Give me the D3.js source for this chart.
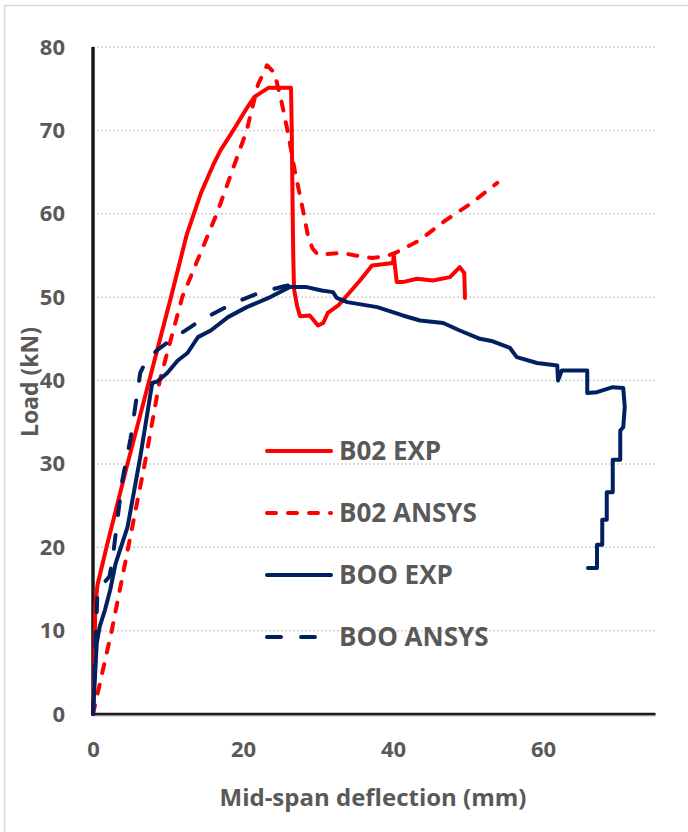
<!DOCTYPE html>
<html>
<head>
<meta charset="utf-8">
<script src="https://cdn.jsdelivr.net/npm/d3@7/dist/d3.min.js"></script>
<style>
  html, body { margin: 0; padding: 0; background: #fff; }
  svg { display: block; }
  text { font-family: "Open Sans", Lato, sans-serif; font-weight: 700; fill: #595959; }
</style>
</head>
<body>
<svg id="chart" width="688" height="832"></svg>
<script>
// Load–deflection curves, [deflection (mm), load (kN)]
const b02Exp = [
  [0,0],[0.2,6],[0.3,13],[0.6,15.5],[1.8,20],[4.6,30],[7.5,40],[10.4,50],[12.5,57.5],
  [14.4,62.5],[16.1,66],[17,67.6],[18.7,70],[20.6,72.8],[21.5,74],
  [22.7,74.7],[23.4,75.1],[26.4,75.1],[26.5,70],[26.6,62],[26.7,55],[26.8,51],
  [27.2,49],[27.6,47.7],[28.9,47.8],[30,46.6],[30.7,46.9],[31.3,48.1],[32.7,49],
  [35.6,52],[37.2,53.8],[40,54.1],[40.1,55],[40.5,51.8],[41.3,51.8],[43.2,52.2],
  [45.3,52],[47.6,52.4],[48.9,53.6],[49.5,52.9],[49.6,49.9]
];
const b02Ansys = [
  [0,0],[2.5,10],[4.7,20],[6.9,30],[8.9,40],[11.9,50],[16.5,60],[20.5,70],[22,75.5],
  [23.2,77.8],[24.2,76.9],[25.1,73.6],[26,69.7],[26.9,65.2],[27.8,61.3],[28.7,57.2],
  [29.3,55.8],[30,55.1],[33.2,55.3],[35,55],[37.2,54.7],[39,54.9],[40.3,55.3],
  [43.5,56.8],[47,59.2],[50.5,61.3],[53.9,63.7]
];
const booExp = [
  [0,0],[0.5,8.5],[0.9,10.5],[1.6,12.5],[2.3,14.9],[3,18],[4.6,22.4],[6.3,30.8],
  [7.9,39.7],[8.6,39.9],[9.9,40.9],[11.3,42.4],[12.6,43.3],[14,45.2],[15.7,46],
  [18,47.6],[20.5,48.8],[23.4,49.9],[26.2,51.2],[28.5,51.2],[30.5,50.8],[32,50.6],
  [32.5,49.9],[33.9,49.4],[37.9,48.8],[41.3,47.8],[43.6,47.2],[46.7,46.9],[48.9,46],
  [51.6,45],[53.3,44.7],[55.6,43.9],[56.5,42.8],[59.2,42.1],[61.9,41.8],[62,40],
  [62.5,41.2],[65.9,41.2],[65.9,38.5],[67.2,38.6],[69.3,39.2],[70.7,39.1],[70.9,36.8],
  [70.7,34.4],[70.3,34],[70.3,30.5],[69.3,30.5],[69.3,26.6],[68.5,26.6],[68.5,23.3],
  [67.9,23.3],[67.9,20.3],[67.2,20.3],[67.2,17.5],[66,17.5]
];
const booAnsys = [
  [0,0],[0.2,5],[0.4,10],[0.6,14.8],[2.2,16.5],[2.6,18.5],[3.9,28],[5,33],[6.3,40.9],
  [7,42.2],[8.5,43.6],[10.3,44.8],[13,46.4],[14.3,47.2],[18.8,49.3],[22.4,50.6],
  [25.5,51.3],[26.5,51.5]
];

const seriesNames = ["B02 EXP", "B02 ANSYS", "BOO EXP", "BOO ANSYS"];
const xTicks = [0, 20, 40, 60];
const yTicks = [0, 10, 20, 30, 40, 50, 60, 70, 80];
const xTitle = "Mid-span deflection (mm)";
const yTitle = "Load (kN)";

const RED = "#ff0000", NAVY = "#002060";
const styles = [
  { color: RED,  dash: null },
  { color: RED,  dash: "9,12" },
  { color: NAVY, dash: null },
  { color: NAVY, dash: "14,20" }
];
const seriesData = [b02Exp, b02Ansys, booExp, booAnsys];

const svg = d3.select("#chart");

// chart frame
svg.append("rect")
  .attr("x", 4.5).attr("y", 5.5).attr("width", 720).attr("height", 860)
  .attr("fill", "#fff").attr("stroke", "#d9d9d9").attr("stroke-width", 1.5);

const x = d3.scaleLinear().domain([0, 75]).range([93, 655.5]);
const y = d3.scaleLinear().domain([0, 80]).range([714, 47]);

// horizontal gridlines
svg.append("g").selectAll("line")
  .data(yTicks.filter(d => d > 0))
  .join("line")
  .attr("x1", x(0)).attr("x2", x(75))
  .attr("y1", d => y(d)).attr("y2", d => y(d))
  .attr("stroke", "#d0d0d0").attr("stroke-width", 1.5)
  .attr("stroke-dasharray", "2,2");

const tickFont = g => g.selectAll("text")
  .attr("font-size", 22).attr("fill", "#595959")
  .style("font-family", "'Open Sans', Lato, sans-serif").style("font-weight", 700);

// y axis labels
const yAxis = d3.axisLeft(y).tickValues(yTicks).tickSize(0).tickPadding(28);
const gy = svg.append("g").attr("transform", `translate(${x(0)},0)`).call(yAxis);
gy.select(".domain").remove();
gy.call(tickFont);

// x axis labels
const xAxis = d3.axisBottom(x).tickValues(xTicks).tickSize(0).tickPadding(27);
const gx = svg.append("g").attr("transform", `translate(0,${y(0)})`).call(xAxis);
gx.select(".domain").remove();
gx.call(tickFont);

// axis lines
svg.append("line")
  .attr("x1", x(0)).attr("x2", x(75)).attr("y1", y(0) + 1.5).attr("y2", y(0) + 1.5)
  .attr("stroke", "#bfbfbf").attr("stroke-width", 2);
svg.append("line")
  .attr("x1", x(0) - 1).attr("x2", x(75)).attr("y1", y(0)).attr("y2", y(0))
  .attr("stroke", "#1a1a1a").attr("stroke-width", 2.5);
svg.append("line")
  .attr("x1", x(0)).attr("x2", x(0)).attr("y1", y(80)).attr("y2", y(0) + 1)
  .attr("stroke", "#1a1a1a").attr("stroke-width", 3.5);

// curves
const line = d3.line().x(d => x(d[0])).y(d => y(d[1]));
svg.append("g").selectAll("path")
  .data(seriesData)
  .join("path")
  .attr("d", d => line(d))
  .attr("fill", "none")
  .attr("stroke", (d, i) => styles[i].color)
  .attr("stroke-width", 4)
  .attr("stroke-linejoin", "round")
  .attr("stroke-linecap", "round")
  .attr("stroke-dasharray", (d, i) => styles[i].dash);

// legend
const legendY = [451, 513, 575, 637];
const lg = svg.append("g").selectAll("g")
  .data(seriesNames)
  .join("g")
  .attr("transform", (d, i) => `translate(0,${legendY[i]})`);
lg.append("line")
  .attr("x1", 267).attr("x2", 331).attr("y1", 0).attr("y2", 0)
  .attr("stroke", (d, i) => styles[i].color)
  .attr("stroke-width", 4)
  .attr("stroke-linecap", "round")
  .attr("stroke-dasharray", (d, i) => styles[i].dash);
lg.append("text")
  .attr("x", 339).attr("y", 0).attr("dy", "0.36em")
  .attr("font-size", 26)
  .text(d => d);

// axis titles
svg.append("text")
  .attr("x", 373).attr("y", 797).attr("dy", "0.36em")
  .attr("text-anchor", "middle").attr("font-size", 24)
  .text(xTitle);
svg.append("text")
  .attr("transform", `translate(30,382) rotate(-90)`)
  .attr("dy", "0.36em")
  .attr("text-anchor", "middle").attr("font-size", 23)
  .text(yTitle);
</script>
</body>
</html>
